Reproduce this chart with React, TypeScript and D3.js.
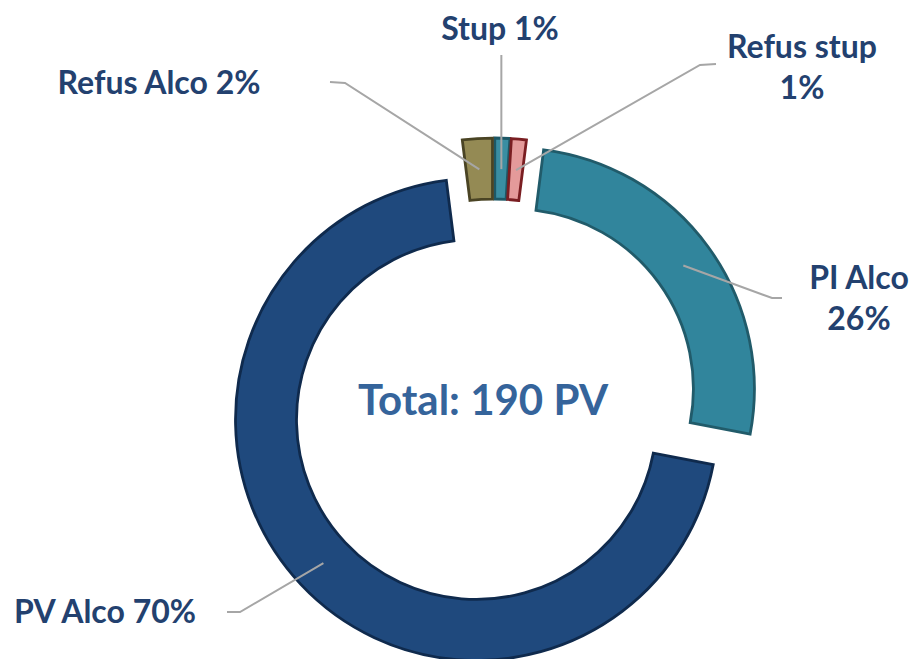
import React from "react";
import * as d3 from "d3";

// ---- data ----
const categories = ["Stup", "Refus stup", "PI Alco", "PV Alco", "Refus Alco"];
const percents = [1, 1, 26, 70, 2];
const totalLabel = "Total: 190 PV";

// ---- styles ----
const fills = ["#3a8ea2", "#e49a9a", "#31859c", "#1f497d", "#948a54"];
const strokes = ["#1d5866", "#7a1e22", "#215b6a", "#0f2a4d", "#4a4424"];
const labelColor = "#23416f";
const totalColor = "#35649b";
const leaderColor = "#a6a6a6";

const W = 915;
const H = 659;
const CX = 494;
const CY = 403;
const R_IN = 180;
const R_OUT = 241;
const EXPLODE = 24;
const R_LEADER = 210;

// label layout: lines, anchor x, first baseline, and leader line start points
const labelLayout = [
  { x: 500, y: 40, lines: (t: string) => [t], lead: (p: number[]) => [[p[0], 55]] },
  { x: 802, y: 58, lines: (t: string) => [categories[1], t.replace(categories[1] + " ", "")], lead: () => [[716, 64], [700, 65]] },
  { x: 859, y: 289, lines: (t: string) => [categories[2], t.replace(categories[2] + " ", "")], lead: () => [[782, 298], [772, 298]] },
  { x: 105, y: 623, lines: (t: string) => [t], lead: () => [[227, 612], [240, 612]] },
  { x: 159, y: 94, lines: (t: string) => [t], lead: () => [[330, 82], [345, 83]] },
];

export default function App() {
  const pie = d3
    .pie<number>()
    .value((d) => d)
    .sort(null)
    .startAngle(0)
    .endAngle(2 * Math.PI);
  const arcs = pie(percents);
  const arc = d3.arc<d3.PieArcDatum<number>>().innerRadius(R_IN).outerRadius(R_OUT);

  const slices = arcs.map((a, i) => {
    const mid = (a.startAngle + a.endAngle) / 2;
    const ox = CX + EXPLODE * Math.sin(mid);
    const oy = CY - EXPLODE * Math.cos(mid);
    const px = ox + R_LEADER * Math.sin(mid);
    const py = oy - R_LEADER * Math.cos(mid);
    return { a, i, ox, oy, px, py };
  });

  const line = d3.line();

  return (
    <svg
      width={W}
      height={H}
      style={{ position: "absolute", left: 0, top: 0, background: "#fff" }}
      fontFamily="Lato, 'Open Sans', sans-serif"
      fontWeight="bold"
    >
      {slices.map((s) => (
        <path
          key={"s" + s.i}
          d={arc(s.a) || ""}
          transform={`translate(${s.ox},${s.oy})`}
          fill={fills[s.i]}
          stroke={strokes[s.i]}
          strokeWidth={2.8}
          strokeLinejoin="miter"
        />
      ))}
      {slices.map((s) => {
        const L = labelLayout[s.i];
        const pts = [...L.lead([s.px, s.py]), [s.px, s.py]] as [number, number][];
        return (
          <path key={"l" + s.i} d={line(pts) || ""} fill="none" stroke={leaderColor} strokeWidth={2} />
        );
      })}
      {slices.map((s) => {
        const L = labelLayout[s.i];
        const text = `${categories[s.i]} ${percents[s.i]}%`;
        const lines = L.lines(text);
        return (
          <text key={"t" + s.i} x={L.x} y={L.y} textAnchor="middle" fontSize={32} fill={labelColor}>
            {lines.map((ln, k) => (
              <tspan key={k} x={L.x} dy={k === 0 ? 0 : 41}>
                {ln}
              </tspan>
            ))}
          </text>
        );
      })}
      <text x={483} y={415} textAnchor="middle" fontSize={42} fill={totalColor}>
        {totalLabel}
      </text>
    </svg>
  );
}
